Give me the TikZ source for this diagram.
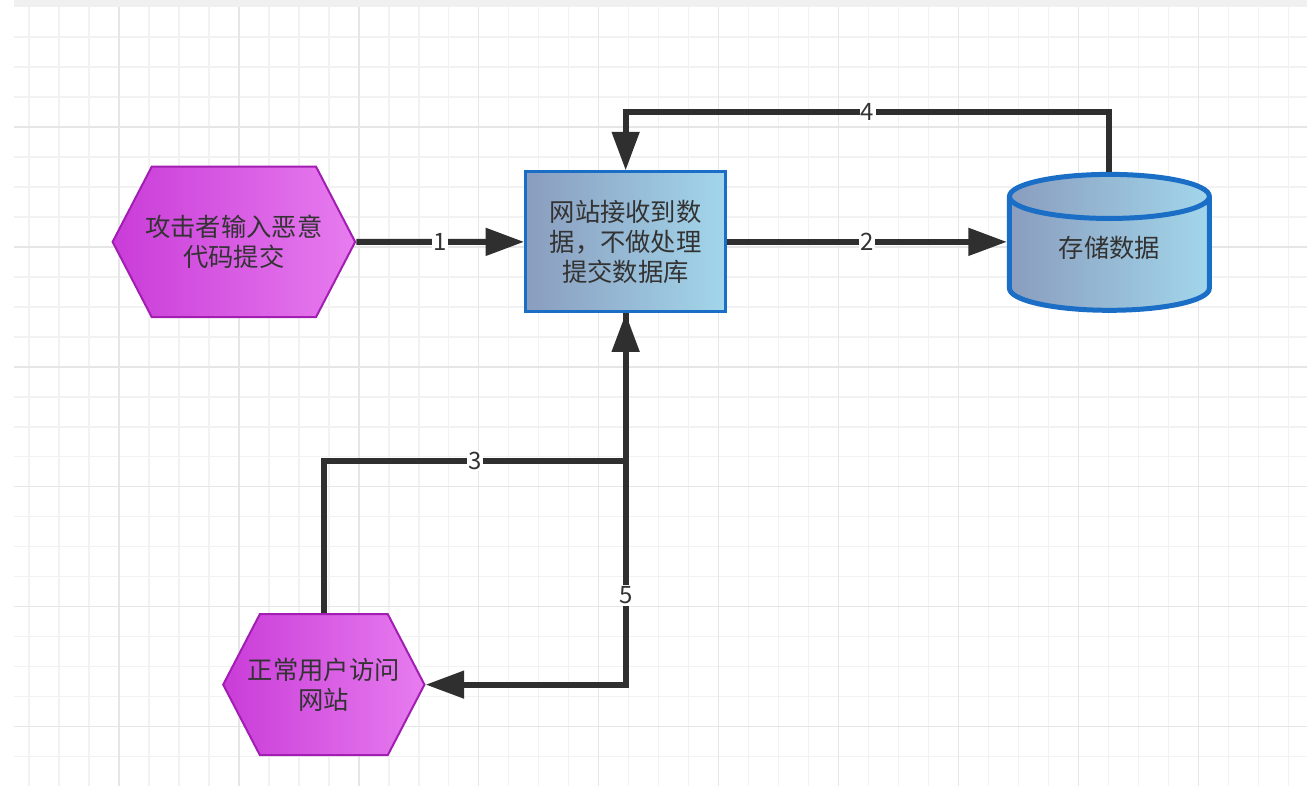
\documentclass[tikz,border=0pt]{standalone}
\usepackage{fontspec}
\setmainfont{Noto Sans CJK SC}
\usepackage{xcolor}
\usetikzlibrary{arrows.meta, positioning, shapes.symbols, shapes.geometric}

\definecolor{hexleft}{HTML}{C93CD8}
\definecolor{hexright}{HTML}{E77CEF}
\definecolor{hexline}{HTML}{A21EB2}
\definecolor{boxleft}{HTML}{8A9DBE}
\definecolor{boxright}{HTML}{A2D6EB}
\definecolor{boxline}{HTML}{1B6EC6}
\definecolor{txt}{HTML}{333333}
\definecolor{linegray}{HTML}{2F2F2F}
\definecolor{gridminor}{HTML}{F2F2F2}
\definecolor{gridmajor}{HTML}{E6E6E6}

\begin{document}
\begin{tikzpicture}[
    x=0.75pt, y=-0.75pt,
    node distance=126pt,
    font=\fontsize{19}{22.5}\selectfont,
    hexa/.style={
        signal,
        signal to=east and west,
        signal pointer angle=125,
        draw=hexline,
        line width=1.5pt,
        left color=hexleft,
        right color=hexright,
        text=txt,
        align=center,
        inner ysep=0pt,
        minimum height=113pt
    },
    block/.style={
        rectangle,
        draw=boxline,
        line width=2.25pt,
        left color=boxleft,
        right color=boxright,
        text=txt,
        align=center,
        minimum width=150pt,
        minimum height=105pt
    },
    tank/.style={
        cylinder,
        shape border rotate=90,
        aspect=0.4,
        draw=boxline,
        line width=3.75pt,
        left color=boxleft,
        right color=boxright,
        text=txt,
        text depth=16.5pt,
        minimum width=150pt,
        minimum height=102pt
    },
    conn/.style={
        draw=linegray,
        line width=4.5pt,
        -{Triangle[length=29pt, width=20pt]}
    },
    num/.style={
        fill=white,
        inner sep=1pt,
        text=txt,
        font=\fontsize{18}{18}\selectfont
    }
]

% background and grid
\fill[white] (0,0) rectangle (1308,786);
\fill[gray!12] (14,0) rectangle (1308,7);
\foreach \gx in {29,59,...,1300}
    \draw[gridminor, line width=1.1pt] (\gx,7) -- (\gx,786);
\foreach \gy in {37,67,...,786}
    \draw[gridminor, line width=1.1pt] (14,\gy) -- (1308,\gy);
\foreach \gx in {119,239,...,1300}
    \draw[gridmajor, line width=1.1pt] (\gx,7) -- (\gx,786);
\foreach \gy in {127,247,...,786}
    \draw[gridmajor, line width=1.1pt] (14,\gy) -- (1308,\gy);

% nodes
\node[block] (web) at (626,242) {网站接收到数\\据，不做处理\\提交数据库};
\node[hexa, inner xsep=-4.9pt, left=of web] (attacker) {攻击者输入恶意\\代码提交};
\node[tank, right=210pt of web, yshift=-12pt] (store) {存储数据};
\node[hexa, inner xsep=-9pt, minimum height=105.75pt] (user) at (324,685) {正常用户访问\\网站};

% connectors
\draw[conn] (attacker) -- node[num] {1} (web);
\draw[conn] (web) -- node[num] {2} (web -| store.west);
\draw[conn] (store.north) -- ++(0,-60) -| node[num, pos=0.25] {4} (web.north);
\draw[conn] (user.north) -- ++(0,-152) -| node[num, pos=0.25] {3} (web.south);
\draw[conn] (web.south) |- node[num, pos=0.38] {5} (user.east);

\end{tikzpicture}
\end{document}
